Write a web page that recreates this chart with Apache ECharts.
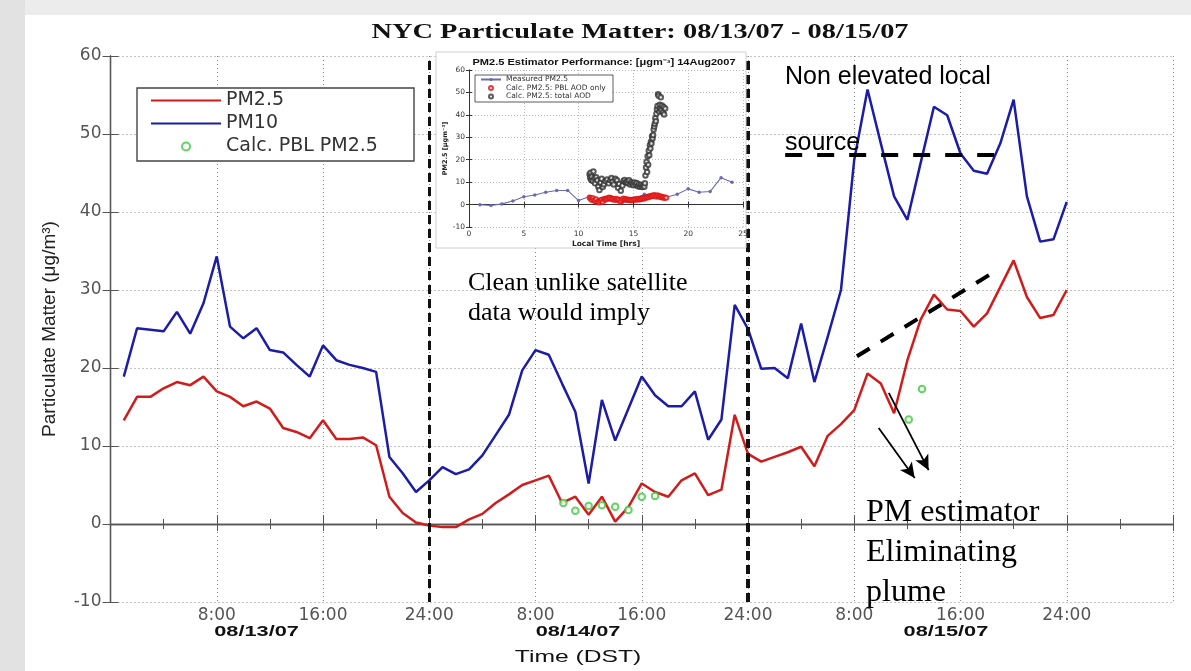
<!DOCTYPE html>
<html><head><meta charset="utf-8">
<script src="https://cdn.jsdelivr.net/npm/echarts@6/dist/echarts.min.js"></script>
<style>html,body{margin:0;padding:0;background:#fff}#c{width:1191px;height:671px}</style>
</head><body><div id="c"></div>
<script>
// ---------------- data ----------------
const hours = [1,2,3,4,5,6,7,8,9,10,11,12,13,14,15,16,17,18,19,20,21,22,23,24,
  25,26,27,28,29,30,31,32,33,34,35,36,37,38,39,40,41,42,43,44,45,46,47,48,
  49,50,51,52,53,54,55,56,57,58,59,60,61,62,63,64,65,66,67,68,69,70,71,72];
const pm25 = [13.3,16.3,16.3,17.4,18.2,17.8,18.9,17.0,16.3,15.1,15.7,14.8,12.3,11.8,11.0,13.3,10.9,10.9,11.1,10.1,3.5,1.4,0.2,-0.2,
  -0.4,-0.4,0.6,1.3,2.7,3.8,5.0,5.6,6.2,2.7,3.5,1.2,3.5,0.3,2.2,5.2,4.1,3.5,5.6,6.5,3.7,4.4,14.0,9.0,
  8.0,8.6,9.2,9.9,7.4,11.3,12.8,14.6,19.3,18.0,14.2,21.0,26.2,29.4,27.5,27.3,25.3,27.0,30.4,33.8,29.1,26.4,26.8,30.0];
const pm10 = [18.9,25.1,24.9,24.7,27.2,24.4,28.3,34.3,25.3,23.8,25.1,22.3,22.0,20.4,18.9,22.9,21.0,20.4,20.0,19.5,8.6,6.5,4.1,5.6,
  7.3,6.4,7.0,8.8,11.4,14.0,19.7,22.3,21.7,18.0,14.4,5.2,15.9,10.7,14.8,18.9,16.5,15.1,15.1,17.0,10.8,13.4,28.1,25.0,
  19.9,20.0,18.7,25.7,18.2,24.0,30.0,46.7,55.7,48.8,42.0,39.0,46.3,53.5,52.4,47.5,45.3,44.9,48.8,54.4,42.0,36.2,36.5,41.3];
const calcHours = [34.1,35,36,37,38,39,40,41,60.1,61.1];
const calcPBL   = [2.7,1.7,2.3,2.4,2.2,1.8,3.5,3.6,13.4,17.3];

const xTickHours  = [8,16,24,32,40,48,56,64,72];
const xTickLabels = ['8:00','16:00','24:00','8:00','16:00','24:00','8:00','16:00','24:00'];
const dayLabels = ['08/13/07','08/14/07','08/15/07'];
const dayLabelHours = [11.0,35.2,62.9];
const dayBreakHours = [24,48];

// inset: PM2.5 Estimator Performance, 14Aug2007
const insetHours = [1,2,3,4,5,6,7,8,9,10,11,12,13,14,15,16,17,18,19,20,21,22,23,24];
const insetMeasured = [-0.1,-0.4,0.3,1.6,3.5,4.3,5.5,6.3,6.3,1.8,3.6,2.5,3.4,1.0,2.4,4.6,4.0,3.3,4.6,7.0,5.5,5.8,12.0,9.9];
const insetPblHours = [11.0,11.1,11.2,11.3,11.4,11.5,11.6,11.7,11.8,11.9,12.0,12.1,12.2,12.3,12.4,12.5,12.6,12.7,12.8,12.9,
  13.0,13.1,13.2,13.3,13.4,13.5,13.6,13.7,13.8,13.9,14.0,14.1,14.2,14.3,14.4,14.5,14.6,14.7,14.8,14.9,
  15.0,15.1,15.2,15.3,15.4,15.5,15.6,15.7,15.8,15.9,16.0,16.1,16.2,16.3,16.4,16.5,16.6,16.7,16.8,16.9,
  17.0,17.1,17.2,17.3,17.4,17.5,17.6,17.7,17.8,17.9,18.0];
const insetPblValues = [3.2,2.6,2.0,2.9,1.9,1.5,2.4,1.0,1.4,0.9,1.6,2.1,1.2,2.5,2.2,2.7,2.4,2.9,3.1,2.6,
  2.8,2.3,2.5,2.0,2.6,2.2,2.4,1.9,1.2,1.7,2.4,2.7,2.2,2.5,2.0,2.3,1.9,2.1,1.8,2.2,
  2.0,2.4,2.1,2.5,2.2,2.6,2.3,2.7,2.5,2.9,2.7,3.2,3.0,3.5,3.3,3.8,3.6,4.1,3.7,4.3,
  3.9,3.5,4.2,3.8,3.4,3.7,3.1,3.4,2.9,3.2,3.0];
const insetTotHours = [11.0,11.05,11.1,11.15,11.2,11.3,11.35,11.45,11.5,11.6,11.7,11.8,11.9,12.0,12.1,12.2,12.3,12.45,12.6,12.75,
  12.9,13.0,13.1,13.2,13.35,13.5,13.6,13.7,13.85,14.0,14.1,14.2,14.3,14.4,14.5,14.6,14.7,14.8,14.9,15.0,
  15.1,15.2,15.3,15.4,15.5,15.6,15.7,15.8,15.9,16.0,16.05,16.1,16.15,16.2,16.25,16.3,16.35,16.4,16.45,16.5,
  16.55,16.6,16.65,16.7,16.75,16.8,16.85,16.9,16.95,17.0,17.05,17.1,17.15,17.2,17.25,17.3,17.35,17.4,17.45,17.5,
  17.55,17.6,17.7,17.75,17.8,17.9];
const insetTotValues = [13.5,12.0,14.2,11.0,12.5,10.5,14.8,11.8,9.5,12.2,10.8,8.0,6.5,9.8,11.5,7.8,9.0,10.5,11.2,9.5,
  10.8,11.8,10.2,9.0,11.5,10.8,7.5,9.2,6.2,8.5,10.5,11.0,9.8,10.2,9.5,10.8,9.0,10.0,9.3,8.6,
  9.8,8.8,9.6,8.2,9.0,8.0,8.8,7.8,8.5,8.0,9.5,13.0,16.5,19.0,14.5,21.5,17.8,24.0,22.0,26.5,
  25.0,28.0,27.2,30.5,29.5,31.0,33.5,34.8,36.0,38.5,37.2,40.5,42.5,44.0,49.2,48.5,41.5,44.5,43.0,47.8,
  42.0,44.2,41.0,43.5,40.2,42.8];

// ---------------- chart ----------------
const RED = '#d01c1c', BLUE = '#1c1ca6', GREEN = '#3cc83c';
const AX = '#555';
const pairs = (xs, ys) => xs.map((x, i) => [x, ys[i]]);
const dotted = {type: [1, 3], color: '#8a8a8a', width: 1};
const insetDotted = {type: [1, 2], color: '#aaa', width: 0.8};

const chart = echarts.init(document.getElementById('c'));

const mainTickLabel = v => { const i = xTickHours.indexOf(v); return i >= 0 ? xTickLabels[i] : ''; };

const option = {
  backgroundColor: '#fff',
  animation: false,
  grid: [
    {left: 110.5, right: 18, top: 56, bottom: 69},
    {left: 469, right: 448, top: 70, bottom: 444}
  ],
  xAxis: [
    {gridIndex: 0, type: 'value', min: 0, max: 80, interval: 8, position: 'bottom',
     axisLine: {lineStyle: {color: AX, width: 1.3}},
     axisTick: {inside: true, length: 9, lineStyle: {color: AX}},
     minorTick: {show: true, splitNumber: 2, length: 5, lineStyle: {color: AX}},
     axisLabel: {formatter: mainTickLabel, color: '#555', fontSize: 17, fontFamily: 'DejaVu Sans', margin: 5},
     splitLine: {show: true, lineStyle: dotted}},
    {gridIndex: 0, type: 'value', min: 0, max: 80, interval: 8, position: 'top',
     axisLine: {lineStyle: {color: AX, width: 1.3}},
     axisTick: {inside: true, length: 7, lineStyle: {color: AX}},
     minorTick: {show: true, splitNumber: 2, length: 5, lineStyle: {color: AX}},
     axisLabel: {show: false}, splitLine: {show: false}},
    {gridIndex: 1, type: 'value', min: 0, max: 25, interval: 5, position: 'bottom', z: 12,
     axisLine: {lineStyle: {color: '#333', width: 1}},
     axisTick: {inside: true, length: 3, lineStyle: {color: '#333'}},
     axisLabel: {color: '#333', fontSize: 7.5, fontFamily: 'DejaVu Sans', margin: 3},
     splitLine: {show: true, lineStyle: insetDotted},
     name: 'Local Time [hrs]', nameLocation: 'middle', nameGap: 13,
     nameTextStyle: {fontSize: 7.5, fontWeight: 'bold', color: '#222', fontFamily: 'DejaVu Sans'}},
    {gridIndex: 1, type: 'value', min: 0, max: 25, interval: 5, position: 'top', z: 12,
     axisLine: {lineStyle: {color: '#333', width: 1}},
     axisTick: {inside: true, length: 3, lineStyle: {color: '#333'}},
     axisLabel: {show: false}, splitLine: {show: false}}
  ],
  yAxis: [
    {gridIndex: 0, type: 'value', min: -10, max: 60, interval: 10, position: 'left',
     axisLine: {lineStyle: {color: AX, width: 1.3}},
     axisTick: {inside: true, length: 8, lineStyle: {color: AX}},
     axisLabel: {color: '#555', fontSize: 17, fontFamily: 'DejaVu Sans', margin: 9},
     splitLine: {show: true, lineStyle: dotted},
     name: 'Particulate Matter (\u03bcg/m\u00b3)', nameLocation: 'middle', nameGap: 51, nameRotate: 90,
     nameTextStyle: {fontSize: 19, color: '#222', fontFamily: 'Liberation Sans'}},
    {gridIndex: 0, type: 'value', min: -10, max: 60, interval: 10, position: 'right',
     axisLine: {lineStyle: {color: AX, width: 1.3}},
     axisTick: {inside: true, length: 8, lineStyle: {color: AX}},
     axisLabel: {show: false}, splitLine: {show: false}},
    {gridIndex: 1, type: 'value', min: -10, max: 60, interval: 10, position: 'left', z: 12,
     axisLine: {lineStyle: {color: '#333', width: 1}},
     axisTick: {inside: true, length: 3, lineStyle: {color: '#333'}},
     axisLabel: {color: '#333', fontSize: 7.5, fontFamily: 'DejaVu Sans', margin: 4},
     splitLine: {show: true, lineStyle: insetDotted},
     name: 'PM2.5 [\u03bcgm\u207b\u00b3]', nameLocation: 'middle', nameGap: 15, nameRotate: 90,
     nameTextStyle: {fontSize: 6.5, fontWeight: 'bold', color: '#222', fontFamily: 'DejaVu Sans'}},
    {gridIndex: 1, type: 'value', min: -10, max: 60, interval: 10, position: 'right', z: 12,
     axisLine: {lineStyle: {color: '#333', width: 1}},
     axisTick: {inside: true, length: 3, lineStyle: {color: '#333'}},
     axisLabel: {show: false}, splitLine: {show: false}}
  ],
  legend: [
    {orient: 'vertical', left: 150, top: 90, padding: 0, itemWidth: 70, itemHeight: 8, itemGap: 2, z: 21,
     data: [{name: 'PM2.5', itemStyle: {opacity: 0}}, {name: 'PM10', itemStyle: {opacity: 0}}, 'Calc. PBL PM2.5'],
     textStyle: {fontSize: 19, fontFamily: 'DejaVu Sans', color: '#333', lineHeight: 21}},
    {orient: 'vertical', left: 480, top: 75.5, padding: 0, itemWidth: 20, itemHeight: 4, itemGap: 0.5, z: 16,
     data: ['Measured PM2.5', 'Calc. PM2.5: PBL AOD only', 'Calc. PM2.5: total AOD'],
     textStyle: {fontSize: 7.5, fontFamily: 'DejaVu Sans', color: '#333', lineHeight: 8}}
  ],
  series: [
    {name: 'PM2.5', type: 'line', xAxisIndex: 0, yAxisIndex: 0, data: pairs(hours, pm25),
     symbol: 'none', lineStyle: {color: RED, width: 2.5}, itemStyle: {color: RED}, z: 3},
    {name: 'PM10', type: 'line', xAxisIndex: 0, yAxisIndex: 0, data: pairs(hours, pm10),
     symbol: 'none', lineStyle: {color: BLUE, width: 2.5}, itemStyle: {color: BLUE}, z: 3},
    {name: 'Calc. PBL PM2.5', type: 'scatter', xAxisIndex: 0, yAxisIndex: 0, data: pairs(calcHours, calcPBL),
     symbol: 'emptyCircle', symbolSize: 6.5, itemStyle: {color: GREEN, borderColor: GREEN, borderWidth: 1.6}, z: 4},
    {name: 'annot', type: 'line', xAxisIndex: 0, yAxisIndex: 0, data: [], z: 8,
     markLine: {silent: true, animation: false, symbol: ['none', 'none'], label: {show: false},
       data: [
         {xAxis: dayBreakHours[0], lineStyle: {color: '#111', width: 3, type: [9, 5]}},
         {xAxis: dayBreakHours[1], lineStyle: {color: '#111', width: 4, type: [9, 5]}},
         [{coord: [50.8, 47.4], lineStyle: {color: '#000', width: 4, type: [17, 15]}}, {coord: [67.1, 47.4]}],
         [{coord: [56.2, 21.5], lineStyle: {color: '#000', width: 4, type: [15, 13]}}, {coord: [66.9, 32.7]}],
         [{coord: [57.84, 12.3], symbol: 'none', lineStyle: {color: '#000', width: 1.8, type: 'solid'}},
          {coord: [60.55, 5.9], symbol: 'arrow', symbolSize: [11, 15]}],
         [{coord: [58.6, 16.8], symbol: 'none', lineStyle: {color: '#000', width: 1.8, type: 'solid'}},
          {coord: [61.6, 6.9], symbol: 'arrow', symbolSize: [11, 15]}]
       ]}},
    {name: 'Measured PM2.5', type: 'line', xAxisIndex: 2, yAxisIndex: 2, data: pairs(insetHours, insetMeasured),
     symbol: 'circle', symbolSize: 3.5, showSymbol: true, z: 14,
     lineStyle: {color: '#6a6ab4', width: 1.1}, itemStyle: {color: '#6a6ab4'}},
    {name: 'Calc. PM2.5: PBL AOD only', type: 'scatter', xAxisIndex: 2, yAxisIndex: 2, data: pairs(insetPblHours, insetPblValues),
     symbol: 'emptyCircle', symbolSize: 4, z: 15, itemStyle: {color: '#e01010', borderColor: '#e01010', borderWidth: 1}},
    {name: 'Calc. PM2.5: total AOD', type: 'scatter', xAxisIndex: 2, yAxisIndex: 2, data: pairs(insetTotHours, insetTotValues),
     symbol: 'emptyCircle', symbolSize: 4.5, z: 14, itemStyle: {color: '#333', borderColor: '#333', borderWidth: 0.7}}
  ]
};
chart.setOption(option);

// text and boxes positioned with the axis scale
const px = h => chart.convertToPixel({xAxisIndex: 0}, h);
const txt = (x, y, text, font, extra) => Object.assign({type: 'text', x, y, z: 30,
  style: {text, font, fill: '#111', align: 'center', verticalAlign: 'middle',
    textAlign: 'center', textVerticalAlign: 'middle'}}, extra || {});
const graphics = [
  {type: 'rect', z: -5, shape: {x: 0, y: 0, width: 1191, height: 15}, style: {fill: '#ececec'}},
  {type: 'rect', z: -5, shape: {x: 0, y: 0, width: 25, height: 671}, style: {fill: '#e2e2e2'}},
  {type: 'rect', z: 20, shape: {x: 137, y: 88, width: 277, height: 73}, style: {fill: '#fff', stroke: '#444', lineWidth: 1.4}},
  {type: 'rect', z: 10, shape: {x: 436, y: 52, width: 310, height: 196}, style: {fill: '#fff', stroke: '#d0d0d0', lineWidth: 1}},
  {type: 'rect', z: 15, shape: {x: 475, y: 75, width: 138, height: 27}, style: {fill: '#fff', stroke: '#333', lineWidth: 0.8}},
  txt(640, 33, 'NYC Particulate Matter: 08/13/07 - 08/15/07', 'bold 20px "Liberation Serif"', {scaleX: 1.42}),
  txt(604, 63, 'PM2.5 Estimator Performance: [\u03bcgm\u207b\u00b3] 14Aug2007', 'bold 8.5px "Liberation Sans"', {scaleX: 1.3, z: 16}),
  txt(px(dayLabelHours[1]), 657, 'Time (DST)', '17px "Liberation Sans"', {scaleX: 1.45})
];
dayLabels.forEach((d, i) => graphics.push(txt(px(dayLabelHours[i]), 632, d, 'bold 15px "Liberation Sans"', {scaleX: 1.45})));
const left = (x, y, text, font, lh) => ({type: 'text', x, y, z: 30,
  style: {text, font, fill: '#000', align: 'left', verticalAlign: 'top', textAlign: 'left', textVerticalAlign: 'top', lineHeight: lh}});
graphics.push(left(468, 268, 'Clean unlike satellite\ndata would imply', '26px "Liberation Serif"', 30));
graphics.push(left(785, 62, 'Non elevated local', '25px "Liberation Sans"', 30));
graphics.push(left(785, 128, 'source', '25px "Liberation Sans"', 30));
graphics.push(left(866, 493, 'PM estimator\nEliminating\nplume', '32px "Liberation Serif"', 40));
chart.setOption({graphic: {elements: graphics}});
</script>
</body></html>
